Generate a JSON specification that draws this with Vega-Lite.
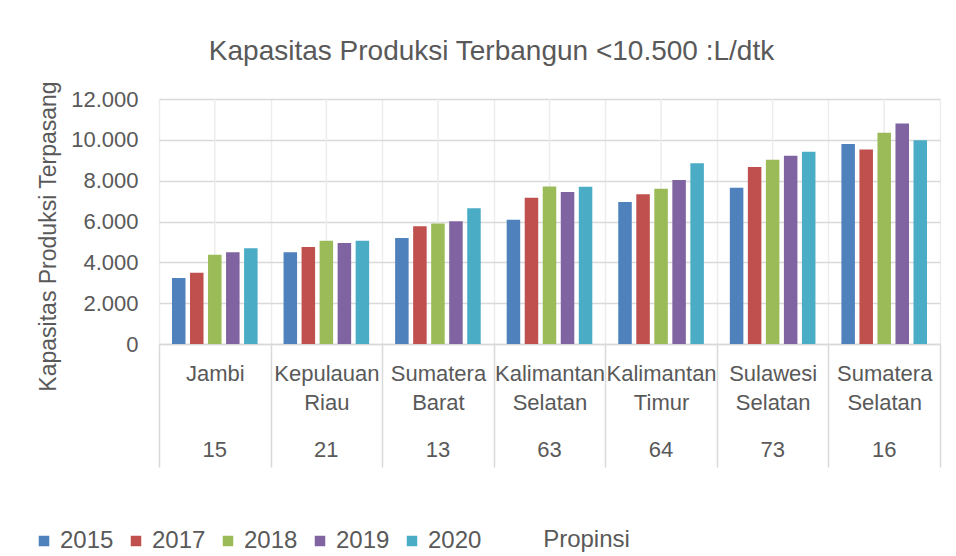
{
  "$schema": "https://vega.github.io/schema/vega-lite/v6.json",
  "autosize": {"type": "none"},
  "width": 781,
  "height": 245,
  "padding": {"left": 159, "top": 99, "right": 16, "bottom": 212},
  "background": "white",
  "title": {
    "text": "Kapasitas Produksi Terbangun <10.500 :L/dtk",
    "fontSize": 28,
    "fontWeight": "normal",
    "color": "#595959",
    "anchor": "middle",
    "dx": -58,
    "baseline": "alphabetic",
    "offset": -7
  },
  "datasets": {
    "bars": [
      {"Propinsi": "Jambi", "Tahun": "2015", "Kapasitas": 3230},
      {"Propinsi": "Jambi", "Tahun": "2017", "Kapasitas": 3490},
      {"Propinsi": "Jambi", "Tahun": "2018", "Kapasitas": 4370},
      {"Propinsi": "Jambi", "Tahun": "2019", "Kapasitas": 4500},
      {"Propinsi": "Jambi", "Tahun": "2020", "Kapasitas": 4690},
      {"Propinsi": "Kepulauan Riau", "Tahun": "2015", "Kapasitas": 4500},
      {"Propinsi": "Kepulauan Riau", "Tahun": "2017", "Kapasitas": 4750},
      {"Propinsi": "Kepulauan Riau", "Tahun": "2018", "Kapasitas": 5060},
      {"Propinsi": "Kepulauan Riau", "Tahun": "2019", "Kapasitas": 4950},
      {"Propinsi": "Kepulauan Riau", "Tahun": "2020", "Kapasitas": 5060},
      {"Propinsi": "Sumatera Barat", "Tahun": "2015", "Kapasitas": 5190},
      {"Propinsi": "Sumatera Barat", "Tahun": "2017", "Kapasitas": 5770},
      {"Propinsi": "Sumatera Barat", "Tahun": "2018", "Kapasitas": 5900},
      {"Propinsi": "Sumatera Barat", "Tahun": "2019", "Kapasitas": 6010},
      {"Propinsi": "Sumatera Barat", "Tahun": "2020", "Kapasitas": 6650},
      {"Propinsi": "Kalimantan Selatan", "Tahun": "2015", "Kapasitas": 6080},
      {"Propinsi": "Kalimantan Selatan", "Tahun": "2017", "Kapasitas": 7160},
      {"Propinsi": "Kalimantan Selatan", "Tahun": "2018", "Kapasitas": 7710},
      {"Propinsi": "Kalimantan Selatan", "Tahun": "2019", "Kapasitas": 7450},
      {"Propinsi": "Kalimantan Selatan", "Tahun": "2020", "Kapasitas": 7700},
      {"Propinsi": "Kalimantan Timur", "Tahun": "2015", "Kapasitas": 6950},
      {"Propinsi": "Kalimantan Timur", "Tahun": "2017", "Kapasitas": 7340},
      {"Propinsi": "Kalimantan Timur", "Tahun": "2018", "Kapasitas": 7600},
      {"Propinsi": "Kalimantan Timur", "Tahun": "2019", "Kapasitas": 8030},
      {"Propinsi": "Kalimantan Timur", "Tahun": "2020", "Kapasitas": 8850},
      {"Propinsi": "Sulawesi Selatan", "Tahun": "2015", "Kapasitas": 7650},
      {"Propinsi": "Sulawesi Selatan", "Tahun": "2017", "Kapasitas": 8670},
      {"Propinsi": "Sulawesi Selatan", "Tahun": "2018", "Kapasitas": 9030},
      {"Propinsi": "Sulawesi Selatan", "Tahun": "2019", "Kapasitas": 9220},
      {"Propinsi": "Sulawesi Selatan", "Tahun": "2020", "Kapasitas": 9420},
      {"Propinsi": "Sumatera Selatan", "Tahun": "2015", "Kapasitas": 9800},
      {"Propinsi": "Sumatera Selatan", "Tahun": "2017", "Kapasitas": 9530},
      {"Propinsi": "Sumatera Selatan", "Tahun": "2018", "Kapasitas": 10350},
      {"Propinsi": "Sumatera Selatan", "Tahun": "2019", "Kapasitas": 10800},
      {"Propinsi": "Sumatera Selatan", "Tahun": "2020", "Kapasitas": 9980}
    ],
    "prov": [
      {"Propinsi": "Jambi", "Kode": "15"},
      {"Propinsi": "Kepulauan Riau", "Kode": "21"},
      {"Propinsi": "Sumatera Barat", "Kode": "13"},
      {"Propinsi": "Kalimantan Selatan", "Kode": "63"},
      {"Propinsi": "Kalimantan Timur", "Kode": "64"},
      {"Propinsi": "Sulawesi Selatan", "Kode": "73"},
      {"Propinsi": "Sumatera Selatan", "Kode": "16"}
    ]
  },
  "encoding": {
    "x": {
      "field": "Propinsi",
      "type": "nominal",
      "sort": ["Jambi", "Kepulauan Riau", "Sumatera Barat", "Kalimantan Selatan", "Kalimantan Timur", "Sulawesi Selatan", "Sumatera Selatan"],
      "scale": {"paddingInner": 0, "paddingOuter": 0},
      "axis": {
        "title": "Propinsi",
        "titleX": 427,
        "titleY": 195,
        "titleBaseline": "middle",
        "titleAlign": "center",
        "titleFontSize": 24,
        "titleFontWeight": "normal",
        "titleColor": "#595959",
        "labelExpr": "split(datum.label, ' ')",
        "labelFontSize": 22,
        "labelLineHeight": 29,
        "labelPadding": -104,
        "labelBaseline": "top",
        "labelColor": "#595959",
        "labelAngle": 0,
        "labelOverlap": false,
        "labelBound": false,
        "labelLimit": 0,
        "tickBand": "extent",
        "tickSize": 123,
        "tickColor": "#d9d9d9",
        "tickWidth": 1.5,
        "domainColor": "#d9d9d9",
        "domainWidth": 1.5,
        "grid": true,
        "gridColor": "#ececec",
        "gridWidth": 1.5
      }
    }
  },
  "layer": [
    {
      "data": {"name": "prov"},
      "mark": {"type": "rule", "color": "#ececec", "strokeWidth": 1.5},
      "encoding": {}
    },
    {
      "data": {"name": "bars"},
      "mark": {"type": "bar"},
      "encoding": {
        "xOffset": {
          "field": "Tahun",
          "type": "nominal",
          "scale": {"paddingInner": 0.25, "paddingOuter": 0.72}
        },
        "y": {
          "field": "Kapasitas",
          "type": "quantitative",
          "scale": {"domain": [0, 12000], "nice": false},
          "axis": {
            "title": "Kapasitas Produksi Terpasang",
            "titleFontSize": 23,
            "titleFontWeight": "normal",
            "titleColor": "#595959",
            "titleX": -111,
            "titleY": 137,
            "titleAngle": -90,
            "titleBaseline": "middle",
            "titleAlign": "center",
            "values": [0, 2000, 4000, 6000, 8000, 10000, 12000],
            "labelExpr": "datum.value == 0 ? '0' : replace(format(datum.value, ',.0f'), ',', '.')",
            "labelFontSize": 22,
            "labelColor": "#595959",
            "labelPadding": 21,
            "ticks": false,
            "domain": false,
            "gridColor": "#d9d9d9",
            "gridWidth": 1.5
          }
        },
        "color": {
          "field": "Tahun",
          "type": "nominal",
          "scale": {
            "domain": ["2015", "2017", "2018", "2019", "2020"],
            "range": ["#4F81BD", "#C0504D", "#9BBB59", "#8064A2", "#4BACC6"]
          },
          "legend": {
            "orient": "none",
            "legendX": -127,
            "legendY": 430,
            "direction": "horizontal",
            "title": null,
            "symbolType": "square",
            "symbolSize": 110,
            "symbolStrokeWidth": 0,
            "labelFontSize": 24,
            "labelColor": "#595959",
            "labelOffset": 4,
            "columnPadding": 10
          }
        }
      }
    },
    {
      "data": {"name": "prov"},
      "mark": {"type": "text", "fontSize": 22, "color": "#595959", "baseline": "middle", "dy": 106},
      "encoding": {
        "y": {"datum": 0, "type": "quantitative"},
        "text": {"field": "Kode"}
      }
    }
  ],
  "config": {
    "font": "Liberation Sans",
    "view": {"stroke": null}
  }
}
